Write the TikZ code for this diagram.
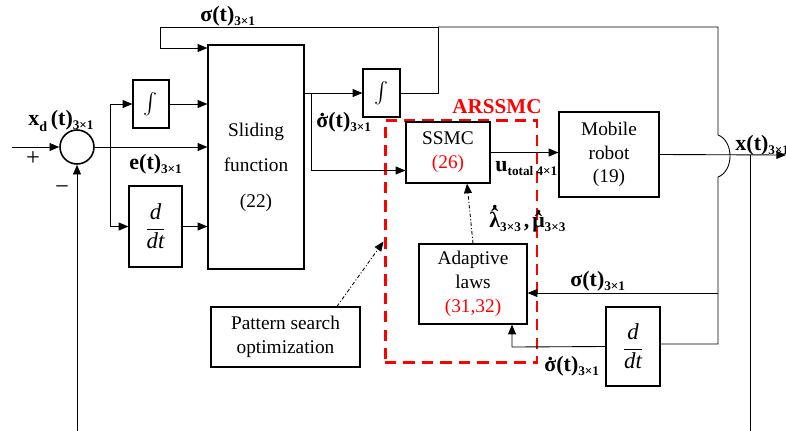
\documentclass[tikz,border=0pt]{standalone}
\usepackage{fontspec}
\setmainfont{Liberation Serif}
\usepackage{amsmath}
\usetikzlibrary{arrows.meta}

\newcommand\sig[2]{{\fontsize{12.5}{14}\selectfont\bfseries #1}\raisebox{-0.6ex}{\fontsize{7.5}{9}\selectfont\bfseries #2}}
\newcommand\dotover[1]{\ooalign{#1\cr\hidewidth\raisebox{0.5em}{.}\hidewidth\cr}}
\newcommand\hatdot[3]{\ooalign{#1\cr\hidewidth\raisebox{#2}{\char"02C6}\hidewidth\cr\hidewidth\raisebox{#3}{.}\hidewidth\cr}}

\begin{document}
\begin{tikzpicture}[x=0.02cm, y=-0.02cm, >={Triangle[length=5.5pt,width=4.5pt]}, line width=0.5pt,
  block/.style={draw, line width=0.7pt, inner sep=0pt, align=center, font=\fontsize{11}{13.5}\selectfont},
  lbl/.style={anchor=base west, inner sep=0pt},
  dashdot/.style={line width=0.5pt, dash pattern=on 2pt off 1.2pt on 0.6pt off 1.2pt}]
\useasboundingbox (0,0) rectangle (786,430);

% controller box
\node[draw=red, line width=1.7pt, dash pattern=on 6.5pt off 4pt, minimum width=30.4mm, minimum height=48.6mm] (ars) at (461,241.5) {};

\node[draw, circle, line width=0.9pt, minimum size=6.8mm, inner sep=0pt] (sum) at (77,147) {};
\node[block, minimum width=7.2mm, minimum height=9.6mm] (int1) at (151,104) {\fontsize{12}{14}\selectfont$\int$};
\node[block, minimum width=10.6mm, minimum height=16.2mm] (ddt1) at (155.5,226.5) {\fontsize{13}{15}\selectfont$\dfrac{\textit{d}}{\textit{dt}}$};
\node[block, minimum width=19.2mm, minimum height=44.8mm] (slide) at (256,157) {\\[6pt]Sliding\\[6pt]function\\[7pt](22)};
\node[block, minimum width=7.4mm, minimum height=9.6mm] (int2) at (381.5,93) {\fontsize{12}{14}\selectfont$\int$};
\node[block, minimum width=16.8mm, minimum height=12.2mm] (ssmc) at (448,152.5) {SSMC\\\textcolor{red}{(26)}};
\node[block, minimum width=20mm, minimum height=17mm] (robot) at (609,154.5) {Mobile\\robot\\(19)};
\node[block, minimum width=21.6mm, minimum height=16mm] (adapt) at (473,284) {Adaptive\\laws\\\textcolor{red}{(31,32)}};
\node[block, minimum width=29.8mm, minimum height=12mm] (pso) at (285.5,337) {Pattern search\\optimization};
\node[block, minimum width=10.8mm, minimum height=15.8mm] (ddt2) at (633,346.5) {\fontsize{13}{15}\selectfont$\dfrac{\textit{d}}{\textit{dt}}$};

\coordinate (xin) at (12,147);
\coordinate (eb) at (110,147);
\coordinate (tl) at (160,27);
\coordinate (sin) at (160,48);
\coordinate (sb) at (311,93);
\coordinate (tm) at (438,27);
\coordinate (tr) at (718,27);
\coordinate (hopa) at (718,135);
\coordinate (hopb) at (718,177);
\coordinate (smid) at (718,293);
\coordinate (sbot) at (718,344);
\coordinate (aj) at (512,347);
\coordinate (xo) at (786,155);
\coordinate (fbr) at (750,155);
\coordinate (fbd) at (750,445);

\draw[->] (xin) -- (sum.west);
\draw[->] (sum.east) -- (sum.east -| slide.west);
\draw[->] (eb) |- (int1.west);
\draw[->] (eb) |- (ddt1.west);
\draw[->] (int1.east) -- (int1.east -| slide.west);
\draw[->] (ddt1.east) -- (ddt1.east -| slide.west);
\draw[->] (int2.east) -| (tm) -- (tl) -- (sin) -- (sin -| slide.west);
\draw (tm) -- (tr) -- (hopa) .. controls (734,141) and (734,171) .. (hopb) -- (sbot) -- (sbot -| ddt2.east);
\draw[->] (smid) -- (smid -| adapt.east);
\draw[->] (ddt2.west) -- (aj) -- (aj |- adapt.south);
\draw[->] (sb -| slide.east) -- (int2.west);
\draw[->] (sb) |- ([yshift=-0.36cm]ssmc.west);
\draw[->] (ssmc.east) -- (ssmc.east -| robot.west);
\draw[->] (robot.east) -- (xo);
\draw[->] (fbr) -- (fbd) -| (sum.south);
\draw[->, dashdot] (adapt.north) -- ([xshift=0.38cm]ssmc.south);
\draw[->, dashdot] ([xshift=1.03cm]pso.north) -- (ars.west);

% signal labels
\node[lbl] (lsig) at (200,21) {\sig{σ(t)}{3×1}};
\node[lbl] (lxd) at (28,125) {{\fontsize{12.5}{14}\selectfont\bfseries x\raisebox{-0.6ex}{\fontsize{8}{9}\selectfont d}\,(t)}\raisebox{-0.6ex}{\fontsize{7.5}{9}\selectfont\bfseries 3×1}};
\node (lplus) at (33,159) {\fontsize{14}{16}\selectfont +};
\node (lminus) at (62,190) {\fontsize{14}{16}\selectfont −};
\node[lbl] (le) at (129,169) {\sig{e(t)}{3×1}};
\node[lbl] (lsd) at (316,127) {\sig{\dotover{σ}(t)}{3×1}};
\node[lbl] (lu) at (495,171) {\sig{u}{total 4×1}};
\node[text=red, font=\fontsize{12}{14}\selectfont\bfseries, anchor=base, inner sep=0pt] (lars) at (497,113) {ARSSMC};
\node[lbl] (llam) at (489,227) {\sig{\hatdot{λ}{0.15em}{0.85em}}{3×3}\,{\fontsize{12.5}{14}\selectfont\bfseries,}\,\sig{\hatdot{μ}{-0.05em}{0.6em}}{3×3}};
\node[lbl] (lsig2) at (570,286) {\sig{σ(t)}{3×1}};
\node[lbl] (lsd2) at (544,371) {\sig{\dotover{σ}(t)}{3×1}};
\node[lbl] (lx) at (735,150) {\sig{x(t)}{3×1}};
\end{tikzpicture}
\end{document}
